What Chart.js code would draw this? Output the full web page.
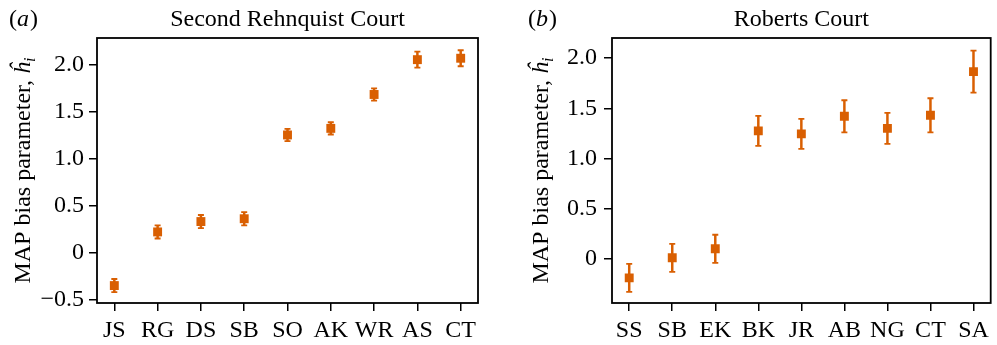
<!DOCTYPE html>
<html>
<head>
<meta charset="utf-8">
<script src="https://cdn.jsdelivr.net/npm/chart.js@4"></script>
<style>
    html, body { margin: 0; padding: 0; background: #fff; }
    .panel { position: absolute; top: 0; }
</style>
</head>
<body>
<canvas id="rehnquistChart" class="panel" width="500" height="345" style="left:0"></canvas>
<canvas id="robertsChart" class="panel" width="497" height="345" style="left:500px"></canvas>
<script>
const rehnquistJustices = ['JS', 'RG', 'DS', 'SB', 'SO', 'AK', 'WR', 'AS', 'CT'];
const rehnquistBias = [-0.35, 0.22, 0.33, 0.36, 1.25, 1.32, 1.68, 2.05, 2.065];
const rehnquistErr = [0.07, 0.07, 0.07, 0.07, 0.065, 0.065, 0.065, 0.085, 0.085];
const rehnquistTicks = [-0.5, 0, 0.5, 1.0, 1.5, 2.0];

const robertsJustices = ['SS', 'SB', 'EK', 'BK', 'JR', 'AB', 'NG', 'CT', 'SA'];
const robertsBias = [-0.19, 0.01, 0.10, 1.275, 1.245, 1.42, 1.30, 1.43, 1.865];
const robertsErr = [0.14, 0.14, 0.14, 0.15, 0.15, 0.16, 0.155, 0.17, 0.21];
const robertsTicks = [0, 0.5, 1.0, 1.5, 2.0];

const ORANGE = '#d95f02';
const FONT = '"Liberation Serif", "Times New Roman", serif';

const errorBars = {
    id: 'errorBars',
    beforeDatasetsDraw(chart, args, opts) {
        const { ctx, scales: { x, y } } = chart;
        ctx.save();
        ctx.strokeStyle = ORANGE;
        ctx.lineWidth = 2.5;
        opts.values.forEach((v, i) => {
            const px = x.getPixelForValue(i);
            const top = y.getPixelForValue(v + opts.errors[i]);
            const bot = y.getPixelForValue(v - opts.errors[i]);
            ctx.beginPath();
            ctx.moveTo(px, top); ctx.lineTo(px, bot);
            ctx.stroke();
            ctx.lineWidth = 1.8;
            ctx.beginPath();
            ctx.moveTo(px - 3, top); ctx.lineTo(px + 3, top);
            ctx.moveTo(px - 3, bot); ctx.lineTo(px + 3, bot);
            ctx.stroke();
            ctx.lineWidth = 2.5;
        });
        ctx.restore();
    }
};

const frameAndText = {
    id: 'frameAndText',
    afterDraw(chart, args, opts) {
        const { ctx, chartArea: a } = chart;
        ctx.save();
        ctx.strokeStyle = '#000';
        ctx.lineWidth = 1.8;
        ctx.strokeRect(a.left, a.top, a.right - a.left, a.bottom - a.top);

        ctx.fillStyle = '#000';
        ctx.textBaseline = 'alphabetic';
        // title
        ctx.font = '24px ' + FONT;
        ctx.textAlign = 'center';
        ctx.fillText(opts.title, (a.left + a.right) / 2, 26);

        // panel letter
        ctx.textAlign = 'left';
        let px = opts.letterX;
        ctx.font = '24px ' + FONT;
        ctx.fillText('(', px, 26); px += ctx.measureText('(').width;
        ctx.font = 'italic 24px ' + FONT;
        ctx.fillText(opts.letter, px, 26); px += ctx.measureText(opts.letter).width + 1;
        ctx.font = '24px ' + FONT;
        ctx.fillText(')', px, 26);

        // y axis label
        const main = 'MAP bias parameter, ';
        ctx.font = '24px ' + FONT;
        const w1 = ctx.measureText(main).width;
        ctx.font = 'italic 24px ' + FONT;
        const w2 = ctx.measureText('\u0125').width;
        ctx.font = 'italic 16px ' + FONT;
        const w3 = ctx.measureText('i').width;
        const total = w1 + w2 + w3;
        ctx.translate(opts.labelX, (a.top + a.bottom) / 2);
        ctx.rotate(-Math.PI / 2);
        let lx = -total / 2;
        ctx.font = '24px ' + FONT;
        ctx.fillText(main, lx, 0); lx += w1;
        ctx.font = 'italic 24px ' + FONT;
        ctx.fillText('\u0125', lx, 0); lx += w2;
        ctx.font = 'italic 16px ' + FONT;
        ctx.fillText('i', lx, 5);
        ctx.restore();
    }
};

function fmtTick(v) {
    if (v === 0) return '0';
    return (v < 0 ? '\u2212' : '') + Math.abs(v).toFixed(1);
}

function makeChart(id, cfg) {
    const el = document.getElementById(id);
    return new Chart(el.getContext('2d'), {
        type: 'scatter',
        data: {
            datasets: [{
                data: cfg.values.map((v, i) => ({ x: i, y: v })),
                backgroundColor: ORANGE,
                borderColor: ORANGE,
                borderWidth: 0,
                pointStyle: 'rect',
                pointRadius: 6.3,
                pointHoverRadius: 6.3
            }]
        },
        options: {
            responsive: false,
            animation: false,
            layout: { padding: { left: 0, right: cfg.padRight, top: 38, bottom: 0 } },
            plugins: {
                legend: { display: false },
                tooltip: { enabled: false },
                errorBars: { values: cfg.values, errors: cfg.errors },
                frameAndText: { title: cfg.title, letter: cfg.letter, letterX: cfg.letterX, labelX: cfg.labelX }
            },
            scales: {
                x: {
                    type: 'linear',
                    min: -0.4,
                    max: 8.4,
                    afterBuildTicks: axis => { axis.ticks = cfg.labels.map((_, i) => ({ value: i })); },
                    afterFit: axis => { axis.height = 42; },
                    grid: { drawOnChartArea: false, drawTicks: true, tickLength: 8, tickColor: '#000', lineWidth: 1.5 },
                    border: { display: false },
                    ticks: {
                        color: '#000',
                        padding: 5,
                        maxRotation: 0,
                        autoSkip: false,
                        font: { family: FONT, size: 24 },
                        callback: v => cfg.labels[v]
                    }
                },
                y: {
                    min: cfg.yMin,
                    max: cfg.yMax,
                    afterBuildTicks: axis => { axis.ticks = cfg.ticks.map(v => ({ value: v })); },
                    afterFit: axis => { axis.width = cfg.yWidth; },
                    grid: { drawOnChartArea: false, drawTicks: true, tickLength: 8, tickColor: '#000', lineWidth: 1.5 },
                    border: { display: false },
                    ticks: {
                        color: '#000',
                        padding: cfg.yPad,
                        font: { family: FONT, size: 24 },
                        callback: v => fmtTick(v)
                    }
                }
            }
        },
        plugins: [errorBars, frameAndText]
    });
}

document.addEventListener('DOMContentLoaded', () => {
    makeChart('rehnquistChart', {
        labels: rehnquistJustices,
        values: rehnquistBias,
        errors: rehnquistErr,
        ticks: rehnquistTicks,
        yMin: -0.535, yMax: 2.28,
        yWidth: 97, padRight: 22, yPad: 5,
        title: 'Second Rehnquist Court', letter: 'a', letterX: 9, labelX: 30
    });
    makeChart('robertsChart', {
        labels: robertsJustices,
        values: robertsBias,
        errors: robertsErr,
        ticks: robertsTicks,
        yMin: -0.44, yMax: 2.2,
        yWidth: 112, padRight: 4, yPad: 7,
        title: 'Roberts Court', letter: 'b', letterX: 28, labelX: 48
    });
});
</script>
</body>
</html>
